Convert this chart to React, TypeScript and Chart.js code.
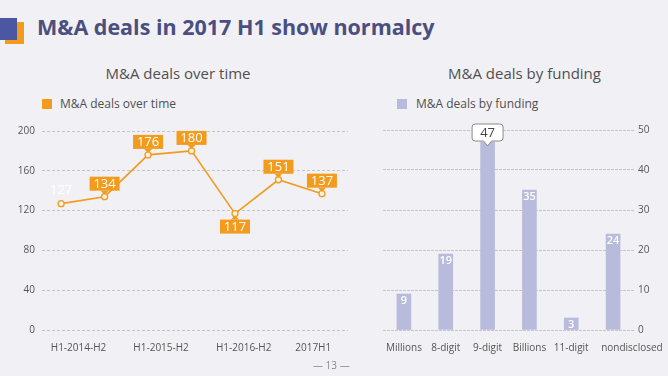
import React, { useEffect, useRef } from "react";
import { Chart, registerables } from "chart.js";
Chart.register(...registerables);

const periods = ["2014H1", "2014H2", "2015H1", "2015H2", "2016H1", "2016H2", "2017H1"];
const dealsOverTime = [127, 134, 176, 180, 117, 151, 137];
const periodTickLabels = ["H1-2014-H2", "H1-2015-H2", "H1-2016-H2", "2017H1"];
const periodTickValues = [0.4, 2.3, 4.2, 5.8];
const lineLabelStyles = ["plain", "above", "above", "above", "below", "above", "above"];

const fundingCategories = ["Millions", "8-digit", "9-digit", "Billions", "11-digit", "nondisclosed"];
const dealsByFunding = [9, 19, 47, 35, 3, 24];
const fundingTickValues = [0, 1, 2, 3, 4, 5.45];
const barLabelStyles = ["inside", "inside", "callout", "inside", "inside", "inside"];

const ORANGE = "#f29b1d";
const LAVENDER = "#b9bbdc";
const BG = "#f1f0f5";
const FONT = '"Open Sans", "Noto Sans", sans-serif';

const lineLabelPlugin = {
  id: "lineLabels",
  afterDatasetsDraw(chart: any) {
    const meta = chart.getDatasetMeta(0);
    const ctx = chart.ctx;
    meta.data.forEach((pt: any, i: number) => {
      const x = pt.x;
      const y = pt.y;
      const text = String(dealsOverTime[i]);
      const style = lineLabelStyles[i];
      const w = 30;
      const h = 14;
      ctx.save();
      ctx.font = `13px ${FONT}`;
      ctx.textAlign = "center";
      ctx.textBaseline = "middle";
      if (style === "plain") {
        ctx.fillStyle = "#ffffff";
        ctx.fillText(text, x, y - 13);
      } else if (style === "above") {
        const top = y - 6 - h;
        ctx.fillStyle = ORANGE;
        ctx.fillRect(x - w / 2, top, w, h);
        ctx.beginPath();
        ctx.moveTo(x - 4, y - 6);
        ctx.lineTo(x + 4, y - 6);
        ctx.lineTo(x, y - 2);
        ctx.closePath();
        ctx.fill();
        ctx.fillStyle = "#ffffff";
        ctx.fillText(text, x, top + h / 2 + 0.5);
      } else {
        const top = y + 6;
        ctx.fillStyle = ORANGE;
        ctx.fillRect(x - w / 2, top, w, h);
        ctx.beginPath();
        ctx.moveTo(x - 4, y + 6);
        ctx.lineTo(x + 4, y + 6);
        ctx.lineTo(x, y + 2);
        ctx.closePath();
        ctx.fill();
        ctx.fillStyle = "#ffffff";
        ctx.fillText(text, x, top + h / 2 + 0.5);
      }
      ctx.restore();
    });
  },
};

const barLabelPlugin = {
  id: "barLabels",
  afterDatasetsDraw(chart: any) {
    const meta = chart.getDatasetMeta(0);
    const ctx = chart.ctx;
    meta.data.forEach((bar: any, i: number) => {
      const x = bar.x;
      const y = bar.y;
      const text = String(dealsByFunding[i]);
      ctx.save();
      ctx.textAlign = "center";
      ctx.textBaseline = "middle";
      if (barLabelStyles[i] === "callout") {
        const w = 31;
        const h = 17;
        const bottom = y - 1;
        const top = bottom - h;
        const r = 3;
        const left = x - w / 2;
        ctx.beginPath();
        ctx.moveTo(left + r, top);
        ctx.lineTo(left + w - r, top);
        ctx.quadraticCurveTo(left + w, top, left + w, top + r);
        ctx.lineTo(left + w, bottom - r);
        ctx.quadraticCurveTo(left + w, bottom, left + w - r, bottom);
        ctx.lineTo(x + 4, bottom);
        ctx.lineTo(x, bottom + 5);
        ctx.lineTo(x - 4, bottom);
        ctx.lineTo(left + r, bottom);
        ctx.quadraticCurveTo(left, bottom, left, bottom - r);
        ctx.lineTo(left, top + r);
        ctx.quadraticCurveTo(left, top, left + r, top);
        ctx.closePath();
        ctx.fillStyle = "#ffffff";
        ctx.fill();
        ctx.strokeStyle = "#8a8a8a";
        ctx.lineWidth = 1;
        ctx.stroke();
        ctx.font = `13px ${FONT}`;
        ctx.fillStyle = "#444444";
        ctx.fillText(text, x, top + h / 2 + 0.5);
      } else {
        ctx.font = `600 11px ${FONT}`;
        ctx.fillStyle = "#ffffff";
        ctx.fillText(text, x, y + 7);
      }
      ctx.restore();
    });
  },
};

function LineChart() {
  const ref = useRef<HTMLCanvasElement | null>(null);
  useEffect(() => {
    if (!ref.current) return;
    const chart = new Chart(ref.current, {
      type: "line",
      data: {
        labels: periods,
        datasets: [
          {
            label: "M&A deals over time",
            data: dealsOverTime.map((v, i) => ({ x: i, y: v })),
            borderColor: ORANGE,
            borderWidth: 1.6,
            pointRadius: 3,
            pointBorderWidth: 1.3,
            pointBackgroundColor: "#fbf3e6",
            pointBorderColor: ORANGE,
            tension: 0,
          },
        ],
      },
      options: {
        animation: false,
        responsive: false,
        maintainAspectRatio: false,
        layout: { padding: { top: 12, right: 8, left: 0, bottom: 0 } },
        plugins: { legend: { display: false }, tooltip: { enabled: false }, title: { display: false } },
        scales: {
          x: {
            type: "linear",
            min: -0.44,
            max: 6.6,
            afterBuildTicks: (scale: any) => {
              scale.ticks = periodTickValues.map((v) => ({ value: v }));
            },
            afterFit: (scale: any) => {
              scale.height = 35;
            },
            ticks: {
              autoSkip: false,
              maxRotation: 0,
              padding: 4,
              color: "#555555",
              font: { family: FONT, size: 10 },
              callback: (_v: any, idx: number) => periodTickLabels[idx],
            },
            grid: { display: false },
            border: { display: false },
          },
          y: {
            min: 0,
            max: 200,
            afterFit: (scale: any) => {
              scale.width = 42;
            },
            ticks: {
              stepSize: 40,
              padding: 7,
              color: "#555555",
              font: { family: FONT, size: 10 },
            },
            grid: { color: "#c4c4cc", lineWidth: 1, drawTicks: false },
            border: { display: false, dash: [3, 2] },
          },
        },
      },
      plugins: [lineLabelPlugin],
    } as any);
    return () => chart.destroy();
  }, []);
  return <canvas ref={ref} width={356} height={247} style={{ position: "absolute", left: 0, top: 118, width: 356, height: 247 }} />;
}

function BarChart() {
  const ref = useRef<HTMLCanvasElement | null>(null);
  useEffect(() => {
    if (!ref.current) return;
    const chart = new Chart(ref.current, {
      type: "bar",
      data: {
        labels: fundingCategories,
        datasets: [
          {
            label: "M&A deals by funding",
            data: dealsByFunding.map((v, i) => ({ x: i, y: v })),
            backgroundColor: LAVENDER,
            barThickness: 14,
          },
        ],
      },
      options: {
        animation: false,
        responsive: false,
        maintainAspectRatio: false,
        layout: { padding: { top: 12, right: 0, left: 2, bottom: 0 } },
        plugins: { legend: { display: false }, tooltip: { enabled: false }, title: { display: false } },
        scales: {
          x: {
            type: "linear",
            offset: false,
            min: -0.5,
            max: 5.5,
            afterBuildTicks: (scale: any) => {
              scale.ticks = fundingTickValues.map((v) => ({ value: v }));
            },
            afterFit: (scale: any) => {
              scale.height = 35;
            },
            ticks: {
              autoSkip: false,
              maxRotation: 0,
              padding: 4,
              color: "#555555",
              font: { family: FONT, size: 10 },
              callback: (_v: any, idx: number) => fundingCategories[idx],
            },
            grid: { display: false, offset: false },
            border: { display: false },
          },
          y: {
            position: "right",
            min: 0,
            max: 50,
            afterFit: (scale: any) => {
              scale.width = 34;
            },
            ticks: {
              stepSize: 10,
              padding: 4,
              color: "#555555",
              font: { family: FONT, size: 10 },
            },
            grid: { color: "#c4c4cc", lineWidth: 1, drawTicks: false },
            border: { display: false, dash: [3, 1] },
          },
        },
      },
      plugins: [barLabelPlugin],
    } as any);
    return () => chart.destroy();
  }, []);
  return <canvas ref={ref} width={287} height={247} style={{ position: "absolute", left: 381, top: 118, width: 287, height: 247 }} />;
}

export default function App() {
  return (
    <div
      style={{
        position: "fixed",
        left: 0,
        top: 0,
        width: 668,
        height: 376,
        background: BG,
        overflow: "hidden",
        fontFamily: FONT,
      }}
    >
      <div style={{ position: "absolute", left: 5, top: 22, width: 19, height: 22, background: ORANGE }} />
      <div style={{ position: "absolute", left: 0, top: 18, width: 17, height: 22, background: "#4b57a3" }} />
      <div
        style={{
          position: "absolute",
          left: 37,
          top: 16,
          fontSize: 21.5,
          lineHeight: "22px",
          fontWeight: 700,
          color: "#4b4f80",
          whiteSpace: "nowrap",
        }}
      >
        M&amp;A deals in 2017 H1 show normalcy
      </div>

      <div style={{ position: "absolute", left: 0, width: 356, top: 63, textAlign: "center", fontSize: 15, lineHeight: "20px", color: "#505050" }}>
        M&amp;A deals over time
      </div>
      <div style={{ position: "absolute", left: 42, top: 99, width: 10, height: 10, background: ORANGE }} />
      <div style={{ position: "absolute", left: 60, top: 96, fontSize: 12, lineHeight: "16px", color: "#505050", whiteSpace: "nowrap" }}>
        M&amp;A deals over time
      </div>

      <div style={{ position: "absolute", left: 381, width: 287, top: 63, textAlign: "center", fontSize: 15, lineHeight: "20px", color: "#505050" }}>
        M&amp;A deals by funding
      </div>
      <div style={{ position: "absolute", left: 397, top: 99, width: 10, height: 10, background: LAVENDER }} />
      <div style={{ position: "absolute", left: 416, top: 96, fontSize: 12, lineHeight: "16px", color: "#505050", whiteSpace: "nowrap" }}>
        M&amp;A deals by funding
      </div>

      <LineChart />
      <BarChart />

      <div style={{ position: "absolute", left: 313, top: 358, fontSize: 10, lineHeight: "14px", color: "#8a8a8a", whiteSpace: "nowrap" }}>
        — 13 —
      </div>
    </div>
  );
}
